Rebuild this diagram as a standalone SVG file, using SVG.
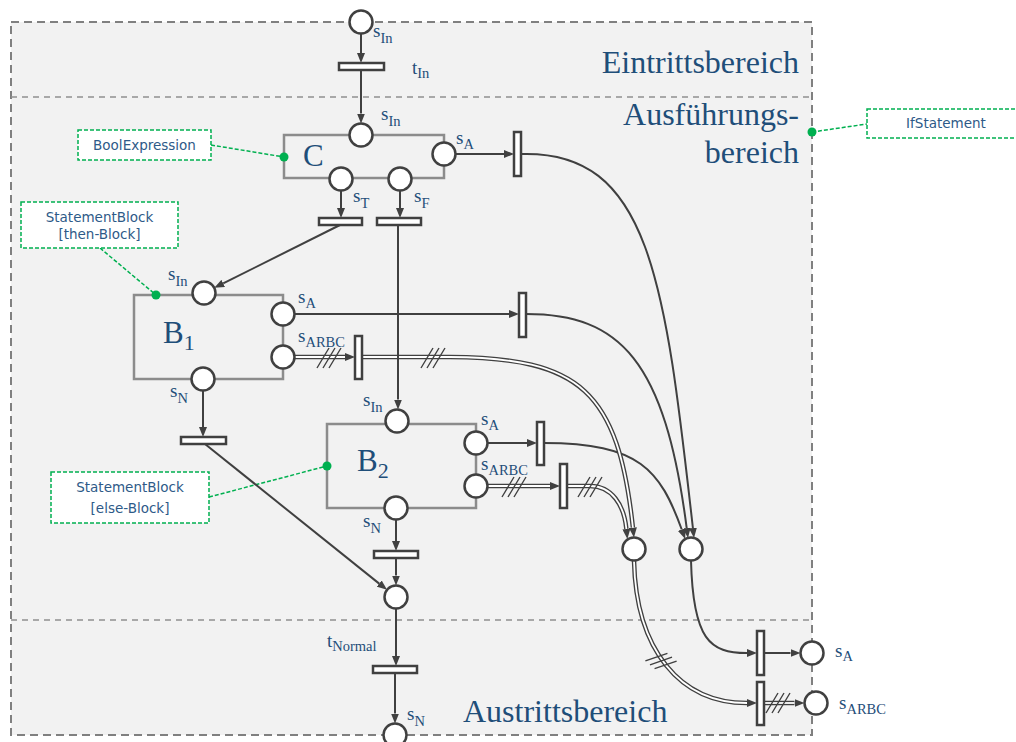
<svg xmlns="http://www.w3.org/2000/svg" xmlns:xlink="http://www.w3.org/1999/xlink" width="1016" height="742" viewBox="0 0 1016 742">
<style>
.pl{fill:#fff;stroke:#404040;stroke-width:2.5}
.tr{fill:#fff;stroke:#404040;stroke-width:2.5}
.bx{fill:none;stroke:#8c8c8c;stroke-width:2.5}
.ln{fill:none;stroke:#404040;stroke-width:2}
.dbo{fill:none;stroke:#404040;stroke-width:4.5}
.dbi{fill:none;stroke:#fff;stroke-width:1.8}
.an{fill:#fff;stroke:#00b050;stroke-width:1.5;stroke-dasharray:4 2}
.al{fill:none;stroke:#00b050;stroke-width:1.5;stroke-dasharray:4 2}
.dot{fill:#00b050}
.lb{font-family:"Liberation Serif",serif;font-size:19px;fill:#1f4e79}
.sub{font-size:14.5px}
.big{font-family:"Liberation Serif",serif;font-size:32px;fill:#1f4e79}
.bl{font-family:"Liberation Serif",serif;font-size:31px;fill:#1f4e79}
.at{font-family:"DejaVu Sans",sans-serif;font-size:13.5px;fill:#2e5a88;text-anchor:middle}
</style>
<defs>
<marker id="ah" viewBox="0 0 10 8" refX="0" refY="4" markerWidth="10" markerHeight="8" orient="auto" markerUnits="userSpaceOnUse"><path d="M0,0 L10,4 L0,8 z" fill="#404040"/></marker>
<g id="sl" fill="none" stroke="#404040" stroke-width="1.4"><path d="M-12,10 L0,-10 M-6,10 L6,-10 M0,10 L12,-10"/></g>
</defs>

<g id="regions">
<rect x="11" y="22" width="801" height="713" fill="#f2f2f2" stroke="#808080" stroke-width="2" stroke-dasharray="8 5"/>
<line x1="11" y1="97" x2="812" y2="97" stroke="#909090" stroke-width="1.5" stroke-dasharray="6 5"/>
<line x1="11" y1="620" x2="812" y2="620" stroke="#909090" stroke-width="1.5" stroke-dasharray="6 5"/>
<text class="big" x="799" y="73" text-anchor="end">Eintrittsbereich</text>
<text class="big" x="799" y="125" text-anchor="end">Ausführungs-</text>
<text class="big" x="799" y="163" text-anchor="end">bereich</text>
<text class="big" x="463" y="722">Austrittsbereich</text>
</g>

<g id="boxes">
<g id="boxC"><rect class="bx" x="284" y="135" width="160" height="43"/><text class="bl" x="303" y="166">C</text></g>
<g id="boxB1"><rect class="bx" x="134" y="295" width="149" height="84"/><text class="bl" x="163" y="343">B<tspan font-size="22" dy="7">1</tspan></text></g>
<g id="boxB2"><rect class="bx" x="327" y="424" width="149" height="84"/><text class="bl" x="357" y="471">B<tspan font-size="22" dy="7">2</tspan></text></g>
</g>

<g id="annotations">
<g id="annBool"><line class="al" x1="211" y1="145" x2="284" y2="157"/><rect class="an" x="78" y="130" width="133" height="30"/><text class="at" x="144.5" y="150">BoolExpression</text><circle class="dot" cx="284" cy="157" r="4.5"/></g>
<g id="annThen"><line class="al" x1="100" y1="248" x2="156" y2="295"/><rect class="an" x="21" y="202" width="157" height="46"/><text class="at" x="99.5" y="222">StatementBlock</text><text class="at" x="99.5" y="239">[then-Block]</text><circle class="dot" cx="156" cy="295" r="4.5"/></g>
<g id="annElse"><line class="al" x1="209" y1="497" x2="327" y2="466"/><rect class="an" x="51" y="472" width="158" height="51"/><text class="at" x="130" y="492">StatementBlock</text><text class="at" x="130" y="513">[else-Block]</text><circle class="dot" cx="327" cy="466" r="4.5"/></g>
<g id="annIf"><line class="al" x1="812" y1="132" x2="867" y2="124"/><rect class="an" x="867" y="109" width="158" height="29"/><text class="at" x="946" y="128">IfStatement</text><circle class="dot" cx="812" cy="132" r="4.5"/></g>
</g>

<g id="connectors">
<path class="ln" d="M521,154 C650,150 665,280 692.9,528" marker-end="url(#ah)"/>
<path class="ln" d="M526,314 C620,314 665,360 686.7,528.1" marker-end="url(#ah)"/>
<path class="ln" d="M544,443 C640,443 660,470 681.75,529.5" marker-end="url(#ah)"/>
<path class="ln" d="M691,560.5 C693,640 710,653 747,653" marker-end="url(#ah)"/>
<path class="dbo" d="M362,357 L450,357 C580,358 618,390 632.9,527.6" marker-end="url(#ah)"/>
<path class="dbi" d="M362,357 L450,357 C580,358 618,390 632.9,527.6"/>
<path class="dbo" d="M567,486 L590,486 C612,486 624,505 626.4,529" marker-end="url(#ah)"/>
<path class="dbi" d="M567,486 L590,486 C612,486 624,505 626.4,529"/>
<path class="dbo" d="M634,560.5 C636,650 680,703 747,703" marker-end="url(#ah)"/>
<path class="dbi" d="M634,560.5 C636,650 680,703 747,703"/>
<path class="dbo" d="M294.5,357 H345" marker-end="url(#ah)"/>
<path class="dbi" d="M294.5,357 H345"/>
<path class="dbo" d="M487.5,486 H550" marker-end="url(#ah)"/>
<path class="dbi" d="M487.5,486 H550"/>
<path class="dbo" d="M763,703 H794.5" marker-end="url(#ah)"/>
<path class="dbi" d="M763,703 H794.5"/>
<path class="ln" d="M361,33.5 V53" marker-end="url(#ah)"/>
<path class="ln" d="M361,70 V113.5" marker-end="url(#ah)"/>
<path class="ln" d="M455.5,154 H504" marker-end="url(#ah)"/>
<path class="ln" d="M341,190.5 V208" marker-end="url(#ah)"/>
<path class="ln" d="M400,190.5 V208" marker-end="url(#ah)"/>
<path class="ln" d="M340,225 L223.2,283.4" marker-end="url(#ah)"/>
<path class="ln" d="M294.5,314 H509" marker-end="url(#ah)"/>
<path class="ln" d="M398,225 V399.5" marker-end="url(#ah)"/>
<path class="ln" d="M203,390.5 V427" marker-end="url(#ah)"/>
<path class="ln" d="M205,444 L379.2,583.6" marker-end="url(#ah)"/>
<path class="ln" d="M487.5,443 H527" marker-end="url(#ah)"/>
<path class="ln" d="M396,519.5 V541" marker-end="url(#ah)"/>
<path class="ln" d="M396,558 V575.5" marker-end="url(#ah)"/>
<path class="ln" d="M396,608.5 V656" marker-end="url(#ah)"/>
<path class="ln" d="M395,673 V713.5" marker-end="url(#ah)"/>
<path class="ln" d="M763,653 H790.5" marker-end="url(#ah)"/>
<use xlink:href="#sl" transform="translate(329,358)"/>
<use xlink:href="#sl" transform="translate(433,358)"/>
<use xlink:href="#sl" transform="translate(514,487)"/>
<use xlink:href="#sl" transform="translate(590,487)"/>
<use xlink:href="#sl" transform="translate(778,703)"/>
<use xlink:href="#sl" transform="translate(661,661) rotate(40)"/>
</g>

<g id="transitions">
<rect id="tIn" class="tr" x="339" y="63" width="45" height="7"/>
<rect id="tCA" class="tr" x="514" y="132" width="7" height="44"/>
<rect id="tT" class="tr" x="319" y="218" width="43" height="7"/>
<rect id="tF" class="tr" x="377" y="218" width="44" height="7"/>
<rect id="tB1A" class="tr" x="519" y="293" width="7" height="44"/>
<rect id="tB1ARBC" class="tr" x="355" y="336" width="7" height="43"/>
<rect id="tB1N" class="tr" x="181" y="437" width="45" height="7"/>
<rect id="tB2A" class="tr" x="537" y="422" width="7" height="43"/>
<rect id="tB2ARBC" class="tr" x="560" y="464" width="7" height="44"/>
<rect id="tB2N" class="tr" x="374" y="551" width="44" height="7"/>
<rect id="tNormal" class="tr" x="373" y="666" width="44" height="7"/>
<rect id="tOutA" class="tr" x="757" y="631" width="7" height="44"/>
<rect id="tOutARBC" class="tr" x="757" y="682" width="7" height="43"/>
</g>

<g id="places">
<g id="pTop"><circle class="pl" cx="361" cy="22" r="11.5"/></g>
<g id="pCIn"><circle class="pl" cx="361" cy="135" r="11.5"/></g>
<g id="pCA"><circle class="pl" cx="444" cy="154" r="11.5"/></g>
<g id="pCT"><circle class="pl" cx="341" cy="179" r="11.5"/></g>
<g id="pCF"><circle class="pl" cx="400" cy="179" r="11.5"/></g>
<g id="pB1In"><circle class="pl" cx="204" cy="293" r="11.5"/></g>
<g id="pB1A"><circle class="pl" cx="283" cy="314" r="11.5"/></g>
<g id="pB1ARBC"><circle class="pl" cx="283" cy="357" r="11.5"/></g>
<g id="pB1N"><circle class="pl" cx="203" cy="379" r="11.5"/></g>
<g id="pB2In"><circle class="pl" cx="397" cy="421" r="11.5"/></g>
<g id="pB2A"><circle class="pl" cx="476" cy="443" r="11.5"/></g>
<g id="pB2ARBC"><circle class="pl" cx="476" cy="486" r="11.5"/></g>
<g id="pB2N"><circle class="pl" cx="396" cy="508" r="11.5"/></g>
<g id="pMerge"><circle class="pl" cx="396" cy="597" r="11.5"/></g>
<g id="pBottom"><circle class="pl" cx="395" cy="735" r="11.5"/></g>
<g id="pL"><circle class="pl" cx="634" cy="549" r="11.5"/></g>
<g id="pR"><circle class="pl" cx="691" cy="549" r="11.5"/></g>
<g id="pOutA"><circle class="pl" cx="812" cy="653" r="11.5"/></g>
<g id="pOutARBC"><circle class="pl" cx="816" cy="703" r="11.5"/></g>
</g>

<g id="labels">
<text class="lb" x="373" y="37">s<tspan class="sub" dy="6">In</tspan></text>
<text class="lb" x="412" y="74">t<tspan class="sub" dy="4">In</tspan></text>
<text class="lb" x="381" y="120">s<tspan class="sub" dy="6">In</tspan></text>
<text class="lb" x="456" y="144">s<tspan class="sub" dy="5">A</tspan></text>
<text class="lb" x="353" y="202">s<tspan class="sub" dy="6">T</tspan></text>
<text class="lb" x="414" y="202">s<tspan class="sub" dy="6">F</tspan></text>
<text class="lb" x="168" y="280">s<tspan class="sub" dy="6">In</tspan></text>
<text class="lb" x="298" y="303">s<tspan class="sub" dy="5">A</tspan></text>
<text class="lb" x="298" y="342">s<tspan class="sub" dy="5">ARBC</tspan></text>
<text class="lb" x="170" y="397">s<tspan class="sub" dy="6">N</tspan></text>
<text class="lb" x="363" y="406">s<tspan class="sub" dy="6">In</tspan></text>
<text class="lb" x="481" y="425">s<tspan class="sub" dy="5">A</tspan></text>
<text class="lb" x="481" y="470">s<tspan class="sub" dy="5">ARBC</tspan></text>
<text class="lb" x="363" y="527">s<tspan class="sub" dy="6">N</tspan></text>
<text class="lb" x="327" y="647">t<tspan class="sub" dy="4">Normal</tspan></text>
<text class="lb" x="407" y="720">s<tspan class="sub" dy="6">N</tspan></text>
<text class="lb" x="835" y="657">s<tspan class="sub" dy="4">A</tspan></text>
<text class="lb" x="839" y="709">s<tspan class="sub" dy="5">ARBC</tspan></text>
</g>
</svg>
